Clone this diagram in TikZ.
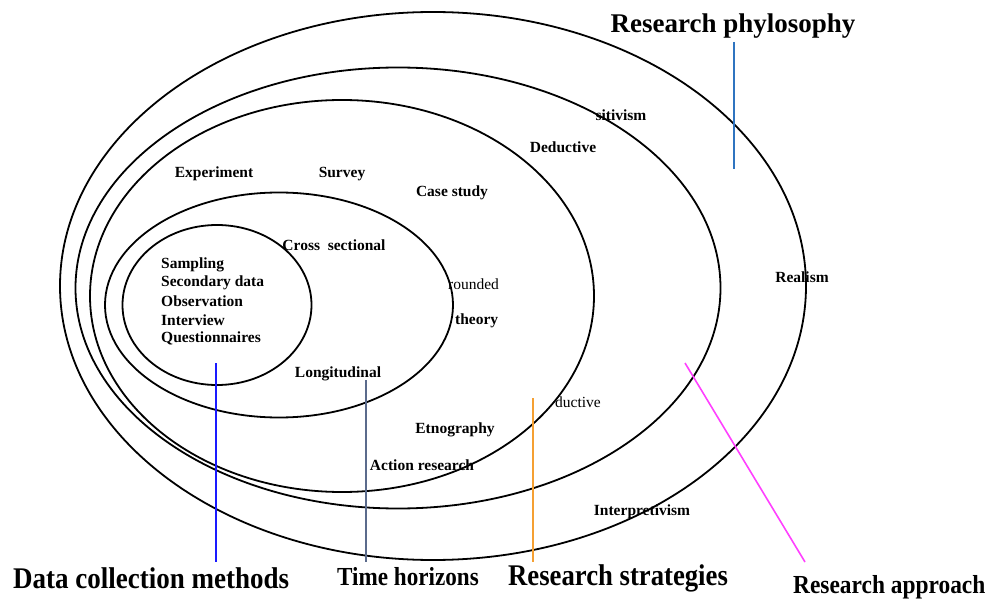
\documentclass[tikz,border=0pt]{standalone}
\usepackage{fontspec}
\setmainfont{Liberation Serif}
\usetikzlibrary{shapes.geometric}
\definecolor{philblue}{HTML}{2F74C0}
\definecolor{datablue}{HTML}{1A1AFF}
\definecolor{timegray}{HTML}{5B6B8C}
\definecolor{stratorange}{HTML}{F5A033}
\definecolor{apprmagenta}{HTML}{FF40FF}
\tikzset{
  ring/.style={ellipse, draw=black, line width=1.8pt, inner sep=0pt},
  lbl/.style={font=\fontsize{15.5}{17}\selectfont\bfseries, inner sep=0pt},
  lblr/.style={font=\fontsize{15.5}{17}\selectfont, inner sep=0pt},
  big/.style={font=\fontsize{30}{32}\selectfont\bfseries, inner sep=0pt},
  leader/.style={line width=1.6pt}
}
\begin{document}
\begin{tikzpicture}[x=1pt,y=-1pt]
\useasboundingbox (0,0) rectangle (989,599);
% rings
\node[ring, minimum width=746pt, minimum height=548pt] (e1) at (433,286) {};
\node[ring, minimum width=645pt, minimum height=441pt] (e2) at (398,288) {};
\node[ring, minimum width=504pt, minimum height=392pt] (e3) at (342,296) {};
\node[ring, minimum width=348pt, minimum height=225pt] (e4) at (279,305) {};
\node[ring, minimum width=189pt, minimum height=160pt] (e5) at (217,305) {};
% labels inside
\node[font=\fontsize{27}{29}\selectfont\bfseries, inner sep=0pt] (phil) at (733,26) {Research phylosophy};
\node[lbl] (pos) at (621,115) {sitivism};
\node[lbl] (ded) at (563,147) {Deductive};
\node[lbl] (exp) at (214,174) {Experiment};
\node[lbl] (sur) at (342,174) {Survey};
\node[lbl] (case) at (452,193) {Case study};
\node[lbl] (cross) at (334,245) {Cross\ \ sectional};
\node[lbl, anchor=west] (samp) at (161,265) {Sampling};
\node[lbl, anchor=west] (sec) at (161,283) {Secondary data};
\node[lbl, anchor=west] (obs) at (161,301) {Observation};
\node[lbl, anchor=west] (int) at (161,320) {Interview};
\node[lbl, anchor=west] (que) at (161,338) {Questionnaires};
\node[lblr, anchor=west] (grd) at (448,284) {rounded};
\node[lbl, anchor=west] (thy) at (455,321) {theory};
\node[lbl] (lon) at (338,374) {Longitudinal};
\node[lblr, anchor=west] (ind) at (555,402) {ductive};
\node[lbl] (etn) at (455,430) {Etnography};
\node[lbl] (act) at (422,465) {Action research};
\node[lbl] (intp) at (642,512) {Interpretivism};
\node[lbl] (real) at (802,277) {Realism};
% bottom labels
\node[big, anchor=west] (dcm) at (13,578) {\scalebox{0.9}[1]{Data collection methods}};
\node[font=\fontsize{26}{28}\selectfont\bfseries, inner sep=0pt, anchor=west] (th) at (337,577) {\scalebox{0.89}[1]{Time horizons}};
\node[big, anchor=west] (rs) at (508,578) {\scalebox{0.89}[1]{Research strategies}};
\node[font=\fontsize{26}{28}\selectfont\bfseries, inner sep=0pt, anchor=west] (ra) at (793,587) {\scalebox{0.9}[1]{Research approach}};
% leader lines
\coordinate (p1) at (734,42);  \coordinate (p2) at (734,169);
\coordinate (d1) at (216,363); \coordinate (d2) at (216,562);
\coordinate (t1) at (366,380); \coordinate (t2) at (366,562);
\coordinate (s1) at (533,398); \coordinate (s2) at (533,562);
\coordinate (a1) at (685,363); \coordinate (a2) at (805,562);
\draw[leader, philblue] (p1) -- (p2);
\draw[leader, datablue] (d1) -- (d2);
\draw[leader, timegray] (t1) -- (t2);
\draw[leader, stratorange] (s1) -- (s2);
\draw[leader, apprmagenta] (a1) -- (a2);
\end{tikzpicture}
\end{document}
